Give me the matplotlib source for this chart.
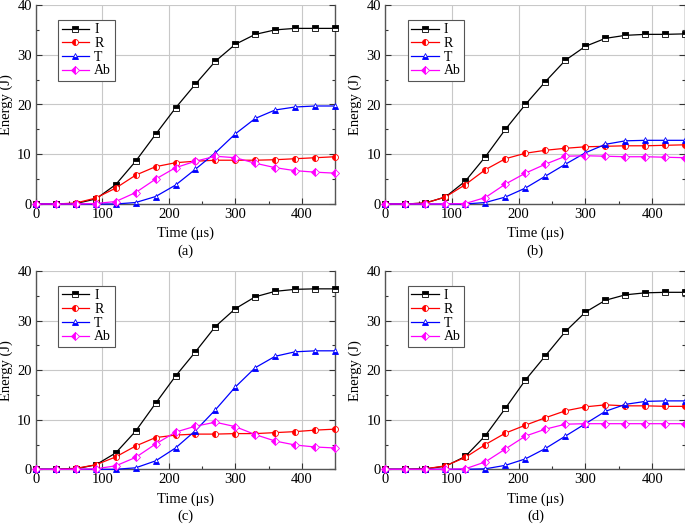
import matplotlib
matplotlib.use("Agg")
import matplotlib.pyplot as plt
from matplotlib.ticker import MultipleLocator

plt.rcParams['font.family'] = ['Liberation Serif', 'DejaVu Serif']
plt.rcParams['font.size'] = 10
plt.rcParams['mathtext.fontset'] = 'stix'

time_us = [0, 30, 60, 90, 120, 150, 180, 210, 240, 270, 300, 330, 360, 390, 420, 450]

a_I  = [0, 0, 0.1, 1.0, 3.9, 8.6, 14.0, 19.3, 24.1, 28.7, 32.1, 34.1, 35.0, 35.3, 35.3, 35.3]
a_R  = [0, 0, 0.2, 1.2, 3.2, 5.8, 7.5, 8.3, 8.6, 8.8, 8.8, 8.8, 8.9, 9.1, 9.3, 9.5]
a_T  = [0, 0, 0, 0, 0, 0.3, 1.5, 3.8, 7.0, 10.3, 14.1, 17.2, 18.9, 19.5, 19.7, 19.7]
a_Ab = [0, 0, 0, 0.1, 0.5, 2.3, 5.0, 7.3, 8.6, 9.6, 9.3, 8.2, 7.3, 6.7, 6.4, 6.2]

b_I  = [0, 0, 0.2, 1.4, 4.6, 9.5, 15.0, 20.0, 24.6, 28.9, 31.7, 33.3, 33.9, 34.1, 34.1, 34.2]
b_R  = [0, 0, 0.2, 1.4, 3.9, 6.9, 9.1, 10.2, 10.8, 11.2, 11.5, 11.6, 11.7, 11.7, 11.8, 11.9]
b_T  = [0, 0, 0, 0, 0, 0.3, 1.4, 3.2, 5.6, 8.0, 10.3, 12.0, 12.7, 12.8, 12.8, 12.8]
b_Ab = [0, 0, 0, 0, 0.1, 1.3, 4.0, 6.2, 8.0, 9.6, 9.7, 9.6, 9.5, 9.5, 9.4, 9.3]

c_I  = [0, 0, 0.1, 0.9, 3.3, 7.7, 13.3, 18.8, 23.7, 28.8, 32.4, 34.8, 35.9, 36.3, 36.4, 36.4]
c_R  = [0, 0, 0.2, 0.9, 2.5, 4.7, 6.4, 6.9, 7.1, 7.1, 7.2, 7.2, 7.4, 7.6, 7.9, 8.1]
c_T  = [0, 0, 0, 0, 0, 0.3, 1.7, 4.3, 7.8, 12.0, 16.6, 20.5, 22.8, 23.7, 23.9, 23.9]
c_Ab = [0, 0, 0, 0.1, 0.7, 2.4, 5.1, 7.5, 8.7, 9.5, 8.6, 7.0, 5.7, 4.9, 4.5, 4.3]

d_I  = [0, 0, 0.1, 0.6, 2.6, 6.8, 12.3, 18.0, 22.9, 27.8, 31.7, 34.1, 35.2, 35.6, 35.7, 35.7]
d_R  = [0, 0, 0.1, 0.7, 2.4, 5.0, 7.3, 8.9, 10.4, 11.8, 12.6, 13.0, 12.8, 12.8, 12.7, 12.7]
d_T  = [0, 0, 0, 0, 0, 0.1, 0.8, 2.1, 4.2, 6.7, 9.2, 11.7, 13.1, 13.7, 13.8, 13.8]
d_Ab = [0, 0, 0, 0, 0.1, 1.5, 4.1, 6.7, 8.1, 9.1, 9.2, 9.2, 9.2, 9.2, 9.2, 9.2]

series_names = ['I', 'R', 'T', 'Ab']
panel_labels = ['(a)', '(b)', '(c)', '(d)']
panels = [[a_I, a_R, a_T, a_Ab], [b_I, b_R, b_T, b_Ab],
          [c_I, c_R, c_T, c_Ab], [d_I, d_R, d_T, d_Ab]]

colors = ['black', '#ff0000', '#0000ff', '#ff00ff']
markers = ['s', 'o', '^', 'D']
fills = ['top', 'left', 'bottom', 'left']
msizes = [4.0, 4.3, 4.3, 3.8]

W, H = 685, 524
fig = plt.figure(figsize=(W / 100, H / 100), dpi=100)
rects = [(36, 5, 335, 204), (385.3, 5, 685.5, 204),
         (36, 271, 335, 469.3), (385.3, 271, 685.5, 469.3)]

for k, (x0, y0, x1, y1) in enumerate(rects):
    ax = fig.add_axes([x0 / W, 1 - y1 / H, (x1 - x0) / W, (y1 - y0) / H])
    for s, name in enumerate(series_names):
        ax.plot(time_us, panels[k][s], color=colors[s], lw=0.9,
                marker=markers[s], ms=msizes[s], fillstyle=fills[s],
                markerfacecoloralt='white', markeredgecolor=colors[s],
                markeredgewidth=0.6, label=name, clip_on=False, zorder=3)
    ax.set_xlim(0, 450)
    ax.set_ylim(0, 40)
    ax.xaxis.set_major_locator(MultipleLocator(100))
    ax.xaxis.set_minor_locator(MultipleLocator(50))
    ax.yaxis.set_major_locator(MultipleLocator(10))
    ax.yaxis.set_minor_locator(MultipleLocator(5))
    ax.tick_params(which='both', direction='in', right=True, top=False,
                   labelsize=10.5, colors='#333333', labelcolor='black')
    ax.tick_params(which='major', length=4, width=0.8, pad=3)
    ax.tick_params(which='minor', length=2, width=0.8)
    ax.grid(True, which='major', color='#c8c8c8', lw=0.8)
    ax.set_axisbelow(True)
    for side in ['left', 'bottom', 'right']:
        ax.spines[side].set_color('#555555')
        ax.spines[side].set_linewidth(1.0)
    ax.spines['top'].set_visible(False)
    ax.set_ylabel('Energy (J)', labelpad=3, fontsize=10.5)
    ax.set_xlabel('Time (μs)', labelpad=4, fontsize=10.5)
    ax.text(0.5, -0.235, panel_labels[k], transform=ax.transAxes,
            ha='center', va='center', fontsize=10.5)
    leg = ax.legend(loc='upper left', bbox_to_anchor=(0.074, 0.925),
                    frameon=True, fancybox=False, framealpha=1,
                    edgecolor='#555555', handlelength=2.0, handletextpad=0.35,
                    borderpad=0.25, labelspacing=0.05, fontsize=10,
                    borderaxespad=0)
    leg.get_frame().set_linewidth(0.8)

fig.savefig('out.png', dpi=100)
